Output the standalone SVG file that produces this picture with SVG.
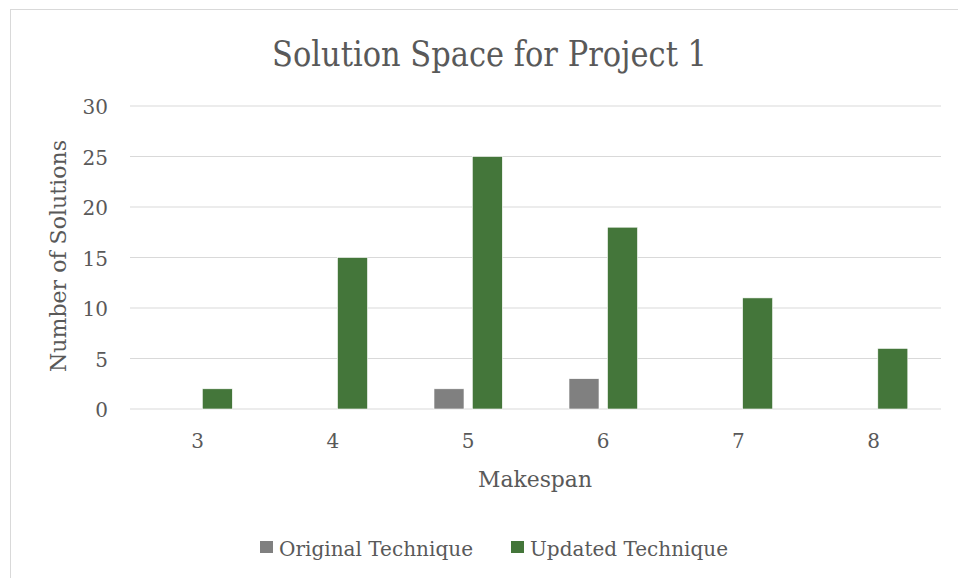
<svg xmlns="http://www.w3.org/2000/svg" width="958" height="578" viewBox="0 0 958 578">
  <style>
    text { font-family: "DejaVu Serif", "Liberation Serif", serif; fill: #595959; }
    .grid { stroke: #D9D9D9; stroke-width: 1; }
    .tick { font-size: 20px; }
    .orig { fill: #808080; stroke: #ffffff; stroke-width: 0.6; }
    .upd { fill: #44763A; stroke: #ffffff; stroke-width: 0.6; }
  </style>
  <rect x="0" y="0" width="958" height="578" fill="#ffffff"/>
  <!-- chart frame -->
  <rect x="10.5" y="9.5" width="960" height="600" fill="#ffffff" stroke="#D9D9D9" stroke-width="1"/>

  <!-- title -->
  <text id="title" x="489.5" y="66" font-size="36" text-anchor="middle" textLength="435" lengthAdjust="spacingAndGlyphs">Solution Space for Project 1</text>

  <!-- gridlines -->
  <g id="gridlines">
    <line class="grid" x1="130" y1="106" x2="941" y2="106"/>
    <line class="grid" x1="130" y1="156.5" x2="941" y2="156.5"/>
    <line class="grid" x1="130" y1="207" x2="941" y2="207"/>
    <line class="grid" x1="130" y1="257.5" x2="941" y2="257.5"/>
    <line class="grid" x1="130" y1="308" x2="941" y2="308"/>
    <line class="grid" x1="130" y1="358.5" x2="941" y2="358.5"/>
    <line class="grid" x1="130" y1="409" x2="941" y2="409"/>
  </g>

  <!-- y axis labels -->
  <g id="y-axis" class="tick" text-anchor="end">
    <text x="108" y="114">30</text>
    <text x="108" y="164.5">25</text>
    <text x="108" y="215">20</text>
    <text x="108" y="265.5">15</text>
    <text x="108" y="316">10</text>
    <text x="108" y="366.5">5</text>
    <text x="108" y="417">0</text>
  </g>
  <text id="y-title" transform="translate(66,256) rotate(-90)" font-size="22" text-anchor="middle" textLength="232" lengthAdjust="spacingAndGlyphs">Number of Solutions</text>

  <!-- bars -->
  <g id="bars">
    <rect class="upd" x="202.3" y="388.8" width="30" height="20.2"/>
    <rect class="upd" x="337.5" y="257.5" width="30" height="151.5"/>
    <rect class="orig" x="434" y="388.8" width="30" height="20.2"/>
    <rect class="upd" x="472.3" y="156.5" width="30" height="252.5"/>
    <rect class="orig" x="569" y="378.7" width="30" height="30.3"/>
    <rect class="upd" x="607.5" y="227.2" width="30" height="181.8"/>
    <rect class="upd" x="742.6" y="297.9" width="30" height="111.1"/>
    <rect class="upd" x="877.8" y="348.4" width="30" height="60.6"/>
  </g>

  <!-- x axis labels -->
  <g id="x-axis" class="tick" text-anchor="middle">
    <text x="197.6" y="448">3</text>
    <text x="332.8" y="448">4</text>
    <text x="468" y="448">5</text>
    <text x="603.2" y="448">6</text>
    <text x="738.4" y="448">7</text>
    <text x="873.6" y="448">8</text>
  </g>
  <text id="x-title" x="535" y="487" font-size="22" text-anchor="middle" textLength="114" lengthAdjust="spacingAndGlyphs">Makespan</text>

  <!-- legend -->
  <g id="legend-original">
    <rect x="260" y="541" width="13" height="12" fill="#808080"/>
    <text x="279" y="556" font-size="20" textLength="194" lengthAdjust="spacingAndGlyphs">Original Technique</text>
  </g>
  <g id="legend-updated">
    <rect x="511" y="541" width="13" height="12" fill="#44763A"/>
    <text x="530" y="556" font-size="20" textLength="198" lengthAdjust="spacingAndGlyphs">Updated Technique</text>
  </g>
</svg>
